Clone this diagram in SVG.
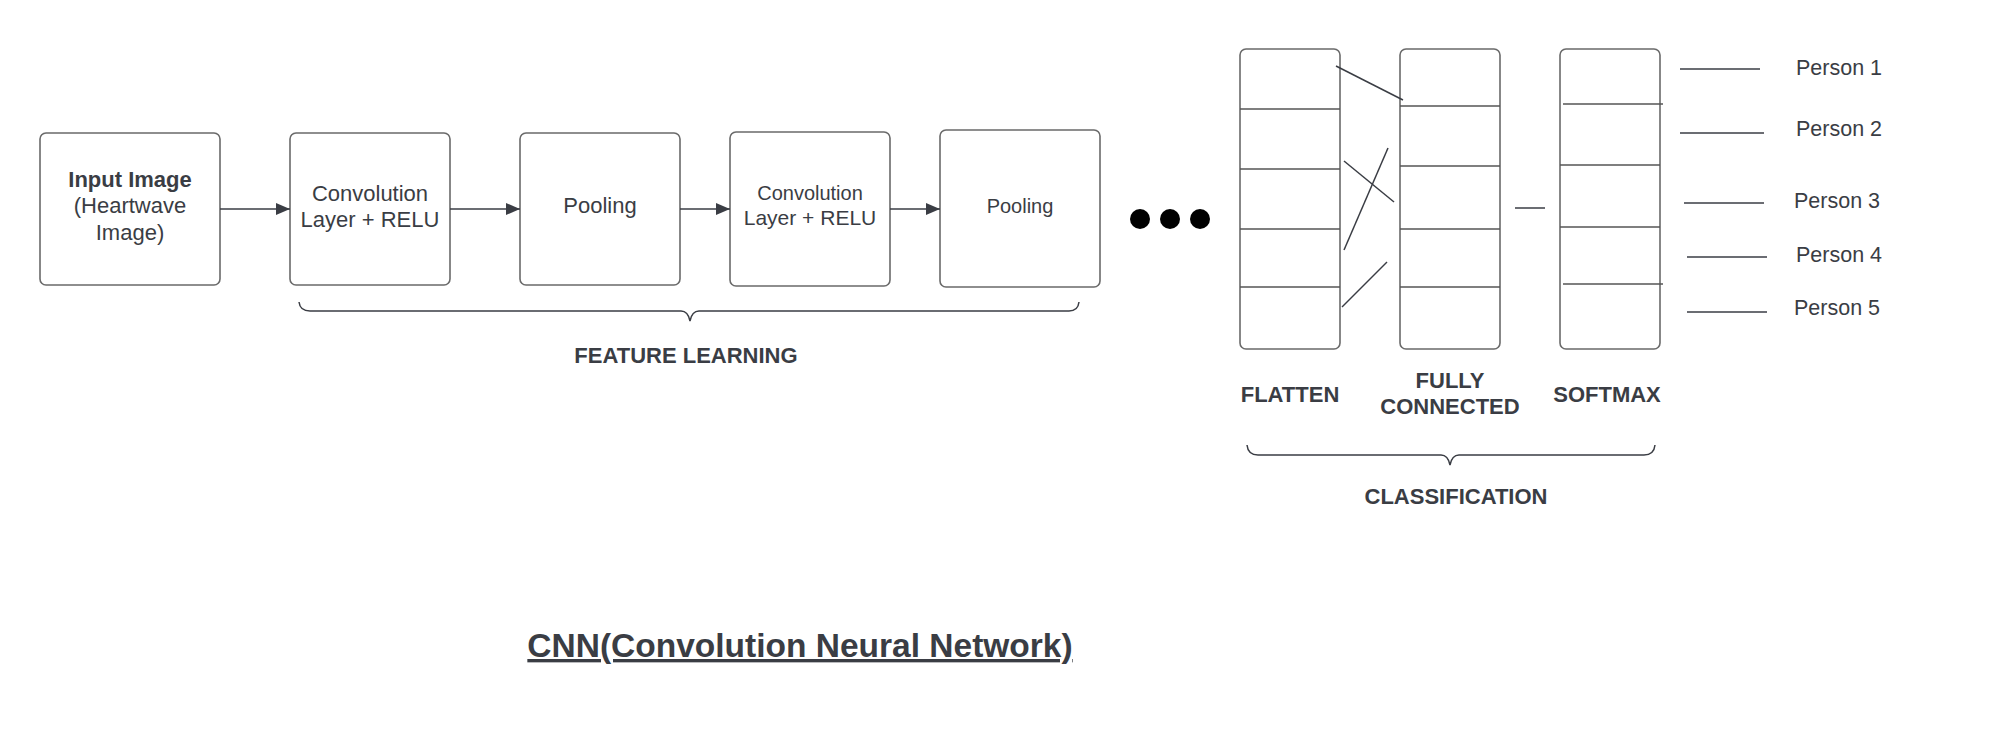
<svg xmlns="http://www.w3.org/2000/svg" width="2000" height="747" viewBox="0 0 2000 747">
<style>
.box{fill:#fff;stroke:#6a6a6a;stroke-width:1.6}
.div{stroke:#555;stroke-width:1.5;fill:none}
.ln{stroke:#3a3d44;stroke-width:1.5;fill:none}
.t{font-family:"Liberation Sans",Arial,sans-serif;fill:#3a3d44;text-anchor:middle}
.r22{font-size:22px}
.r20{font-size:20px}
.b{font-weight:bold;font-size:22px}
.p{font-family:"Liberation Sans",Arial,sans-serif;fill:#3a3d44;font-size:21.5px}
</style>
<defs>
<marker id="ah" markerUnits="userSpaceOnUse" markerWidth="16" markerHeight="14" refX="14" refY="6" orient="auto">
<path d="M0,0 L14,6 L0,12 z" fill="#3a3d44"/>
</marker>
</defs>
<rect width="2000" height="747" fill="#fff"/>

<g id="input">
<rect class="box" x="40" y="133" width="180" height="152" rx="6"/>
<text class="t b" x="130" y="187">Input Image</text>
<text class="t r22" x="130" y="213">(Heartwave</text>
<text class="t r22" x="130" y="240">Image)</text>
</g>
<g id="conv1">
<rect class="box" x="290" y="133" width="160" height="152" rx="6"/>
<text class="t r22" x="370" y="201">Convolution</text>
<text class="t r22" x="370" y="227">Layer + RELU</text>
</g>
<g id="pool1">
<rect class="box" x="520" y="133" width="160" height="152" rx="6"/>
<text class="t r22" x="600" y="213">Pooling</text>
</g>
<g id="conv2">
<rect class="box" x="730" y="132" width="160" height="154" rx="6"/>
<text class="t r20" x="810" y="200">Convolution</text>
<text class="t" x="810" y="225" style="font-size:21px">Layer + RELU</text>
</g>
<g id="pool2">
<rect class="box" x="940" y="130" width="160" height="157" rx="6"/>
<text class="t r20" x="1020" y="213">Pooling</text>
</g>
<g id="dots">
<circle cx="1140" cy="219" r="10" fill="#000"/>
<circle cx="1170" cy="219" r="10" fill="#000"/>
<circle cx="1200" cy="219" r="10" fill="#000"/>
</g>

<g id="flatten">
<rect class="box" x="1240" y="49" width="100" height="300" rx="6"/>
<path class="div" d="M1240,109 H1340 M1240,169 H1340 M1240,229 H1340 M1240,287 H1340"/>
</g>
<g id="fully-connected">
<rect class="box" x="1400" y="49" width="100" height="300" rx="6"/>
<path class="div" d="M1400,106 H1500 M1400,166 H1500 M1400,229 H1500 M1400,287 H1500"/>
</g>
<g id="softmax">
<rect class="box" x="1560" y="49" width="100" height="300" rx="6"/>
<path class="div" d="M1563,104 H1663 M1560,165 H1660 M1560,227 H1660 M1563,284 H1663"/>
</g>

<g id="connectors">
<line class="ln" x1="220" y1="209" x2="290" y2="209" marker-end="url(#ah)"/>
<line class="ln" x1="450" y1="209" x2="520" y2="209" marker-end="url(#ah)"/>
<line class="ln" x1="680" y1="209" x2="730" y2="209" marker-end="url(#ah)"/>
<line class="ln" x1="890" y1="209" x2="940" y2="209" marker-end="url(#ah)"/>
<line class="ln" x1="1336" y1="66" x2="1403" y2="100"/>
<line class="ln" x1="1344" y1="161" x2="1394" y2="202"/>
<line class="ln" x1="1344" y1="250" x2="1388" y2="148"/>
<line class="ln" x1="1342" y1="307" x2="1387" y2="262"/>
<line class="ln" x1="1515" y1="208" x2="1545" y2="208"/>
<line class="ln" x1="1680" y1="69" x2="1760" y2="69"/>
<line class="ln" x1="1680" y1="133" x2="1764" y2="133"/>
<line class="ln" x1="1684" y1="203" x2="1764" y2="203"/>
<line class="ln" x1="1687" y1="257" x2="1767" y2="257"/>
<line class="ln" x1="1687" y1="312" x2="1767" y2="312"/>
</g>

<g id="persons">
<text class="p" x="1796" y="75">Person 1</text>
<text class="p" x="1796" y="136">Person 2</text>
<text class="p" x="1794" y="208">Person 3</text>
<text class="p" x="1796" y="262">Person 4</text>
<text class="p" x="1794" y="315">Person 5</text>
</g>

<g id="feature-learning">
<path class="ln" d="M299,302 Q300,311 310,311 L681,311 Q688,311 690,321 Q692,311 699,311 L1069,311 Q1078,311 1079,302"/>
<text class="t b" x="686" y="363">FEATURE LEARNING</text>
</g>

<g id="labels">
<text class="t b" x="1290" y="402">FLATTEN</text>
<text class="t b" x="1450" y="388">FULLY</text>
<text class="t b" x="1450" y="414">CONNECTED</text>
<text class="t b" x="1607" y="402">SOFTMAX</text>
</g>

<g id="classification">
<path class="ln" d="M1247,445 Q1248,455 1258,455 L1441,455 Q1448,455 1450,465 Q1452,455 1459,455 L1644,455 Q1654,455 1655,445"/>
<text class="t b" x="1456" y="504">CLASSIFICATION</text>
</g>

<g id="title">
<text class="t" x="800" y="657" style="font-size:33.5px;font-weight:bold;text-decoration:underline">CNN(Convolution Neural Network)</text>
</g>
</svg>
